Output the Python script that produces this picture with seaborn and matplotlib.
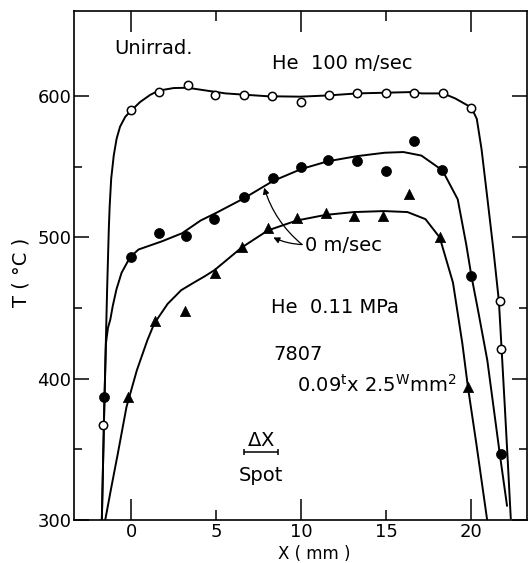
import numpy as np
import pandas as pd
import matplotlib
matplotlib.use("Agg")
import matplotlib.pyplot as plt
import seaborn as sns
from matplotlib.ticker import FixedLocator, FixedFormatter, NullFormatter

# ---------------- data ----------------
# He 100 m/sec (open circles)
x_open = [-1.67, 0.0, 1.65, 3.3, 4.93, 6.6, 8.28, 9.95, 11.62, 13.28, 14.95, 16.62, 18.34, 20.0, 21.66, 21.72]
T_open = [367, 590, 603, 608, 601, 601, 600, 596, 601, 602, 602, 602, 602, 592, 455, 421]
# 0 m/sec, upper (filled circles)
x_fill = [-1.6, 0.0, 1.61, 3.24, 4.85, 6.6, 8.32, 9.95, 11.57, 13.28, 14.96, 16.64, 18.3, 19.97, 21.75]
T_fill = [387, 486, 503, 501, 513, 529, 542, 550, 555, 554, 547, 568, 548, 473, 347]
# 0 m/sec, lower (triangles)
x_tri = [-0.18, 1.38, 3.18, 4.92, 6.5, 8.02, 9.72, 11.43, 13.1, 14.78, 16.33, 18.14, 19.8]
T_tri = [387, 441, 448, 475, 493, 507, 514, 517, 515, 515, 531, 500, 394]

# fitted curves
cx_open = [-1.74, -1.6, -1.43, -1.33, -1.28, -1.19, -1.04, -0.87, -0.67, -0.36, 0.0, 0.52, 1.11,
           1.61, 2.49, 3.3, 5.54, 8.0, 9.95, 11.62, 13.28, 16.62, 17.07, 18.34, 19.06, 20.0,
           20.32, 20.6, 20.95, 21.3, 21.62, 21.78, 21.97, 22.15, 22.32]
cT_open = [300, 378, 463, 506, 522, 541.6, 558, 570, 578.4, 585.5, 590, 596, 601,
           604, 605.8, 606, 602, 600, 599.7, 600.6, 602, 603, 602, 602, 598.4, 592,
           584, 562.5, 527, 491, 455, 421, 380, 340, 301]
cx_fill = [-1.74, -1.6, -1.5, -1.38, -1.24, -1.1, -0.88, -0.58, -0.08, 0.42, 1.8, 2.98, 4.07,
           5.0, 6.6, 8.33, 10.0, 11.57, 13.28, 14.9, 16.0, 17.06, 18.3, 19.2, 19.7, 20.0, 20.4,
           20.94, 21.67, 22.1]
cT_fill = [300, 378, 425, 436, 442, 451.4, 463.3, 475, 486, 491.5, 497.3, 503, 512,
           517.5, 527.6, 540, 548.5, 554, 557.6, 560, 560.5, 558, 547.5, 527, 495, 473, 448,
           413, 347, 310]
cx_tri = [-1.54, -1.2, -0.8, -0.29, 0.32, 0.94, 1.34, 2.13, 2.93, 3.72, 4.31, 4.9, 6.5, 8.03,
          9.72, 11.43, 13.1, 14.87, 16.24, 17.3, 18.14, 18.92, 19.47, 19.8, 20.3, 20.93]
cT_tri = [300, 322, 347, 380, 406, 427.3, 439, 453, 462.7, 468.4, 472.5, 477, 493, 505,
          512, 516, 518, 518.7, 518, 513, 500, 468, 425, 394, 353.5, 300]

x_ticks_major = [0, 10, 20]
x_ticks_minor = [5, 15]
y_ticks_major = [300, 400, 500, 600]
y_ticks_minor = [350, 450, 550]
spot_center, spot_half, spot_T = 7.6, 1.0, 348

# ---------------- style ----------------
sns.set_theme(style="ticks")
plt.rcParams['font.family'] = ['DejaVu Sans']
plt.rcParams['mathtext.fontset'] = 'dejavusans'
plt.rcParams['text.color'] = 'black'
plt.rcParams['axes.labelcolor'] = 'black'
plt.rcParams['xtick.color'] = 'black'
plt.rcParams['ytick.color'] = 'black'

fig = plt.figure(figsize=(5.3, 5.63), dpi=100)
ax = fig.add_axes([0.1402, 0.0764, 0.854, 0.9032])
ax.set_facecolor('white')
fig.patch.set_facecolor('white')

lw = 1.4
for cx, cT in [(cx_open, cT_open), (cx_fill, cT_fill), (cx_tri, cT_tri)]:
    sns.lineplot(x=cx, y=cT, sort=False, estimator=None, color='black', linewidth=lw, ax=ax)

sns.scatterplot(x=x_open, y=T_open, marker='o', s=36, facecolor='white', edgecolor='black',
                linewidth=1.1, ax=ax, zorder=5)
sns.scatterplot(x=x_fill, y=T_fill, marker='o', s=52, color='black', edgecolor='black',
                linewidth=0.5, ax=ax, zorder=5)
sns.scatterplot(x=x_tri, y=T_tri, marker='^', s=55, color='black', edgecolor='black',
                linewidth=0.5, ax=ax, zorder=5)

ax.set_xlim(-3.36, 23.27)
ax.set_ylim(300, 660)

ax.xaxis.set_major_locator(FixedLocator(x_ticks_major))
ax.xaxis.set_minor_locator(FixedLocator(x_ticks_minor))
ax.xaxis.set_major_formatter(FixedFormatter([str(v) for v in x_ticks_major]))
ax.xaxis.set_minor_formatter(FixedFormatter([str(v) for v in x_ticks_minor]))
ax.yaxis.set_major_locator(FixedLocator(y_ticks_major))
ax.yaxis.set_minor_locator(FixedLocator(y_ticks_minor))
ax.yaxis.set_major_formatter(FixedFormatter([str(v) for v in y_ticks_major]))
ax.yaxis.set_minor_formatter(NullFormatter())

ax.tick_params(which='both', direction='in', top=True, right=True, colors='black',
               labelcolor='black', width=1.1, labelsize=13)
ax.tick_params(axis='x', which='major', length=15, pad=2.5)
ax.tick_params(axis='x', which='minor', length=7, pad=2.5)
ax.tick_params(axis='y', which='major', length=11, pad=2)
ax.tick_params(axis='y', which='minor', length=6, pad=2)

for sp in ax.spines.values():
    sp.set_visible(True)
    sp.set_color('black')
    sp.set_linewidth(1.2)

ax.set_xlabel('')
ax.set_ylabel('')
fig.text(314 / 530, 0.0005, 'X ( mm )', ha='center', va='bottom', fontsize=12,
         color='black')
fig.text(21 / 530, 1 - 272 / 563, 'T ( °C )', ha='center', va='center', rotation=90,
         fontsize=14, color='black')

fs = 14
ax.text(-1.0, 634, 'Unirrad.', fontsize=fs, ha='left', va='center')
ax.text(8.3, 623, 'He  100 m/sec', fontsize=fs, ha='left', va='center')
ax.text(10.24, 494.6, '0 m/sec', fontsize=fs, ha='left', va='center')
ax.text(8.24, 450.7, 'He  0.11 MPa', fontsize=fs, ha='left', va='center')
ax.text(8.33, 417.4, '7807', fontsize=fs, ha='left', va='center')
ax.text(9.76, 395.8, r'0.09$^{\mathrm{t}}$x 2.5$^{\mathrm{W}}$mm$^{2}$', fontsize=fs,
        ha='left', va='center')
ax.text(spot_center, 356.5, r'$\Delta$X', fontsize=fs, ha='center', va='center')
ax.text(spot_center, 331.2, 'Spot', fontsize=fs, ha='center', va='center')
ax.errorbar([spot_center], [spot_T], xerr=[spot_half], fmt='none', ecolor='black',
            elinewidth=1.1, capsize=2, capthick=1.1)

ax.annotate('', xy=(7.81, 535.3), xytext=(10.04, 495),
            arrowprops=dict(arrowstyle='-|>', color='black', lw=0.9,
                            connectionstyle='arc3,rad=-0.15', mutation_scale=9,
                            shrinkA=0, shrinkB=0))
ax.annotate('', xy=(8.35, 500), xytext=(10.04, 495),
            arrowprops=dict(arrowstyle='-|>', color='black', lw=0.9,
                            connectionstyle='arc3,rad=-0.1', mutation_scale=9,
                            shrinkA=0, shrinkB=0))

fig.savefig('out.png', dpi=100, facecolor='white')
